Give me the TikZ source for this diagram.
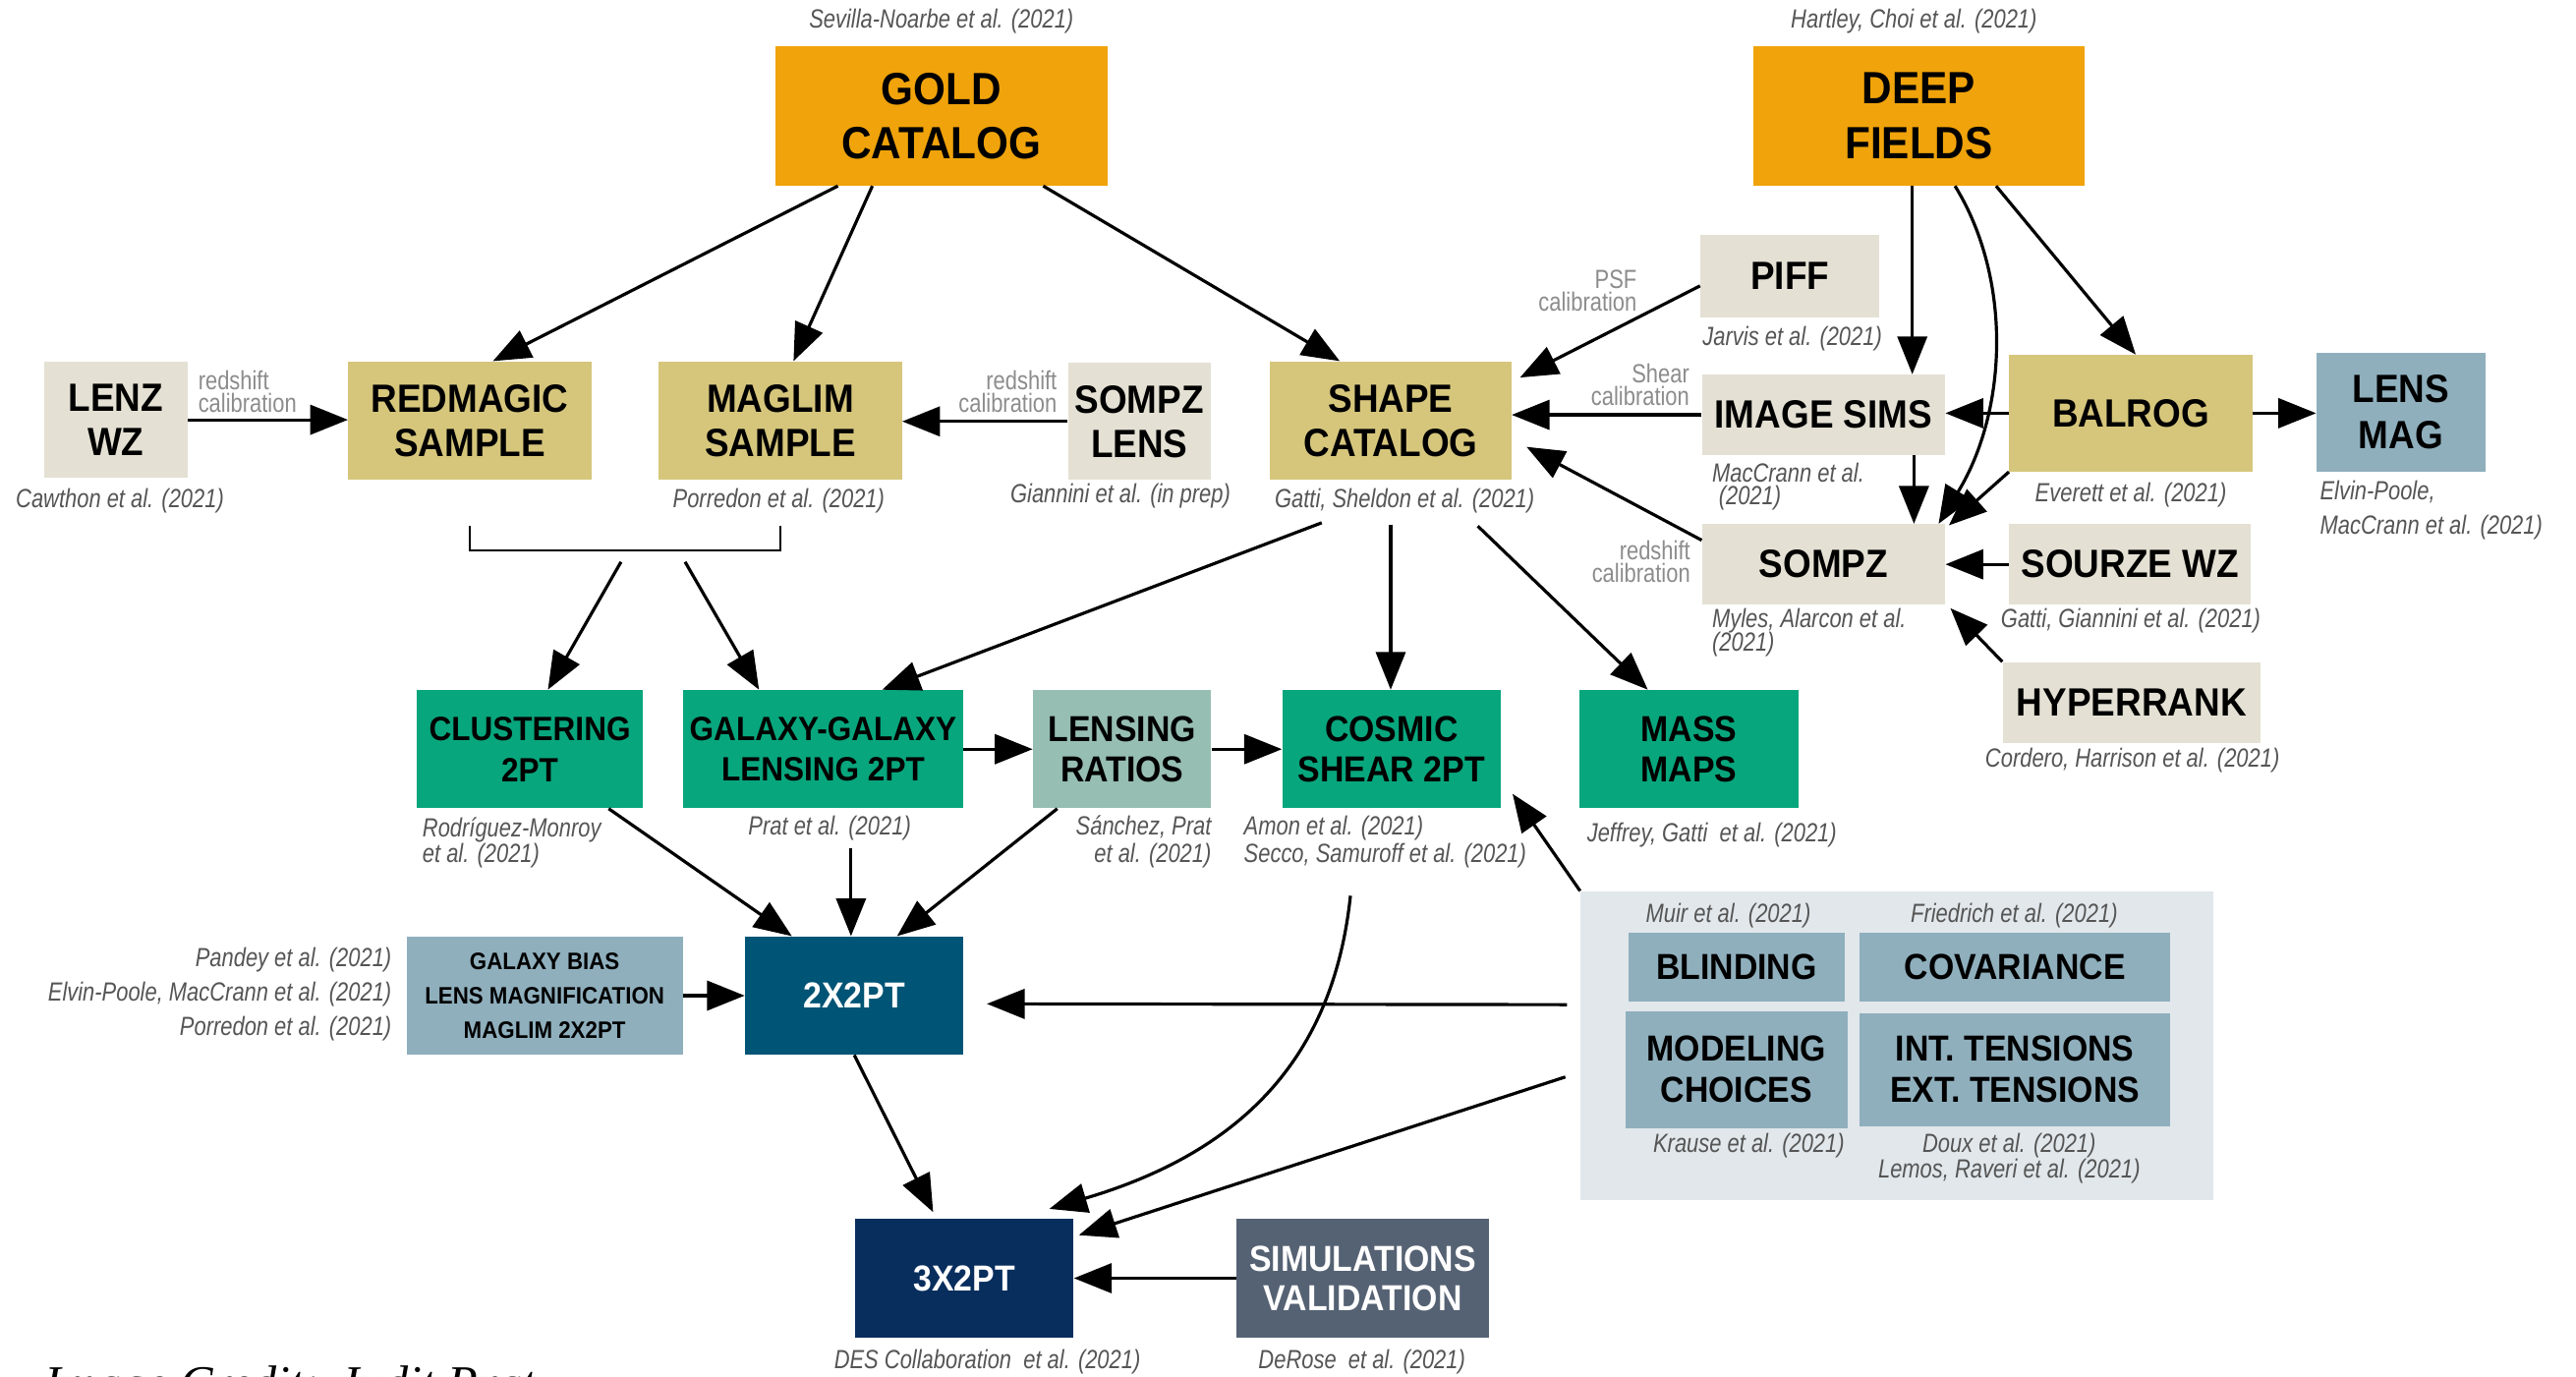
\documentclass[tikz,border=0pt]{standalone}
\usepackage{fontspec}
\setmainfont{Liberation Sans}
\newfontfamily\boxfont[FakeStretch=0.92]{Liberation Sans}
\newfontfamily\citefont[FakeStretch=0.82]{Liberation Sans}
\newfontfamily\creditfont{Liberation Serif}
\usetikzlibrary{arrows.meta}

\definecolor{catorange}{RGB}{240,163,10}
\definecolor{samplekhaki}{RGB}{214,198,124}
\definecolor{toolbeige}{RGB}{228,225,212}
\definecolor{probegreen}{RGB}{8,166,125}
\definecolor{ratiosage}{RGB}{150,190,178}
\definecolor{magblue}{RGB}{143,175,189}
\definecolor{twoptblue}{RGB}{0,84,117}
\definecolor{threeptnavy}{RGB}{8,46,94}
\definecolor{simslate}{RGB}{85,98,115}
\definecolor{panelgray}{RGB}{225,231,235}
\definecolor{citegray}{RGB}{85,85,85}
\definecolor{calibgray}{RGB}{140,140,140}

\tikzset{
  box/.style={inner sep=0pt, align=center, text=black,
    font=\boxfont\bfseries\fontsize{24}{27}\selectfont},
  catbox/.style={box, fill=catorange, minimum width=202pt, minimum height=85pt,
    font=\boxfont\bfseries\fontsize{27.5}{33}\selectfont},
  samplebox/.style={box, fill=samplekhaki},
  toolbox/.style={box, fill=toolbeige},
  probebox/.style={box, fill=probegreen, minimum height=72pt,
    font=\boxfont\bfseries\fontsize{22}{25}\selectfont},
  ratiobox/.style={probebox, fill=ratiosage},
  magbox/.style={box, fill=magblue},
  darkbox/.style={box, text=white, minimum height=72pt,
    font=\boxfont\bfseries\fontsize{22}{24}\selectfont},
  cite/.style={inner sep=0pt, text=citegray,
    font=\citefont\itshape\fontsize{16}{16}\selectfont},
  calib/.style={inner sep=0pt, text=calibgray,
    font=\citefont\fontsize{16}{14}\selectfont},
  link/.style={-{Triangle[length=23pt,width=18pt]}, line width=1.9pt}
}

\begin{document}
\begin{tikzpicture}[x=1pt,y=-1pt]
\useasboundingbox (0,0) rectangle (1568,838);

% catalogs
\node[catbox] (gold) at (573,70.5) {GOLD\\CATALOG};
\node[catbox] (deep) at (1168,70.5) {DEEP\\FIELDS};
\node[cite] (goldcite) at (573,13) {Sevilla-Noarbe et al. (2021)};
\node[cite] (deepcite) at (1165,13) {Hartley, Choi et al. (2021)};

% samples
\node[toolbox, minimum width=87pt, minimum height=71pt] (lenz) at (70.5,255.5) {LENZ\\WZ};
\node[samplebox, minimum width=148pt, minimum height=72pt] (redmagic) at (286,256) {REDMAGIC\\SAMPLE};
\node[samplebox, minimum width=148pt, minimum height=72pt] (maglim) at (475,256) {MAGLIM\\SAMPLE};
\node[toolbox, minimum width=87pt, minimum height=71pt] (sompzlens) at (693.5,256.5) {SOMPZ\\LENS};
\node[samplebox, minimum width=147pt, minimum height=72pt] (shape) at (846.5,256) {SHAPE\\CATALOG};
\node[cite] (lenzcite) at (73,305) {Cawthon et al. (2021)};
\node[cite] (maglimcite) at (474,305) {Porredon et al. (2021)};
\node[cite] (sompzlenscite) at (682,302) {Giannini et al. (in prep)};
\node[cite] (shapecite) at (855,305) {Gatti, Sheldon et al. (2021)};
\node[calib, anchor=west, align=left] (lenzcal) at (120.5,238.5) {redshift\\calibration};
\node[calib, anchor=east, align=right] (lenscal) at (643.5,238.5) {redshift\\calibration};

% calibration
\node[toolbox, minimum width=109pt, minimum height=50pt] (piff) at (1089.5,168) {PIFF};
\node[toolbox, minimum width=148pt, minimum height=49pt] (imsims) at (1110,252.5) {IMAGE SIMS};
\node[samplebox, minimum width=148pt, minimum height=71pt] (balrog) at (1297,251.5) {BALROG};
\node[magbox, minimum width=103pt, minimum height=72pt, font=\boxfont\bfseries\fontsize{24}{28}\selectfont] (lensmag) at (1461.5,251) {LENS\\MAG};
\node[toolbox, minimum width=148pt, minimum height=49pt] (sompz) at (1110,343.5) {SOMPZ};
\node[toolbox, minimum width=147pt, minimum height=49pt] (sourze) at (1296.5,343.5) {SOURZE WZ};
\node[toolbox, minimum width=157pt, minimum height=49pt] (hyperrank) at (1297.5,427.5) {HYPERRANK};
\node[cite] (piffcite) at (1091,206) {Jarvis et al. (2021)};
\node[cite, anchor=west, align=left] (imsimscite) at (1042,296) {MacCrann et al.\\[-2pt]\hspace*{4pt}(2021)};
\node[cite] (balrogcite) at (1297,301) {Everett et al. (2021)};
\node[cite, anchor=west, align=left] (lensmagcite) at (1412,310.5) {Elvin-Poole,\\[5pt]MacCrann et al. (2021)};
\node[cite, anchor=west, align=left] (sompzcite) at (1042,385) {Myles, Alarcon et al.\\[-2pt](2021)};
\node[cite] (sourzecite) at (1297,378) {Gatti, Giannini et al. (2021)};
\node[cite] (hyperrankcite) at (1298,463) {Cordero, Harrison et al. (2021)};
\node[calib, anchor=east, align=right] (psfcal) at (996.5,177) {PSF\\calibration};
\node[calib, anchor=east, align=right] (shearcal) at (1028.5,234) {Shear\\calibration};
\node[calib, anchor=east, align=right] (sompzcal) at (1029,342) {redshift\\calibration};

% two-point
\node[probebox, minimum width=138pt, font=\boxfont\bfseries\fontsize{20.5}{25}\selectfont] (clustering) at (322.5,456) {CLUSTERING\\2PT};
\node[probebox, minimum width=170pt, font=\boxfont\bfseries\fontsize{20.5}{25}\selectfont] (ggl) at (501,456) {GALAXY-GALAXY\\LENSING 2PT};
\node[ratiobox, minimum width=108.5pt] (ratios) at (683,456) {LENSING\\RATIOS};
\node[probebox, minimum width=133pt] (cosmic) at (847,456) {COSMIC\\SHEAR 2PT};
\node[probebox, minimum width=133pt] (massmaps) at (1028,456) {MASS\\MAPS};
\node[cite, anchor=west, align=left] (clustcite) at (257,513) {Rodríguez-Monroy\\et al. (2021)};
\node[cite] (gglcite) at (505,504) {Prat et al. (2021)};
\node[cite, anchor=east, align=right] (ratioscite) at (737.5,512.5) {Sánchez, Prat\\[1pt]et al. (2021)};
\node[cite, anchor=west, align=left] (cosmiccite) at (757,512.5) {Amon et al. (2021)\\[1pt]Secco, Samuroff et al. (2021)};
\node[cite] (masscite) at (1042,508) {Jeffrey, Gatti~ et al. (2021)};

% analysis choices
\node[fill=panelgray, minimum width=385pt, minimum height=188pt, inner sep=0pt] (panel) at (1154.5,636.5) {};
\node[magbox, minimum width=132pt, minimum height=42pt, font=\boxfont\bfseries\fontsize{22}{25}\selectfont] (blinding) at (1057,588.5) {BLINDING};
\node[magbox, minimum width=189pt, minimum height=42pt, font=\boxfont\bfseries\fontsize{22}{25}\selectfont] (covariance) at (1226.5,588.5) {COVARIANCE};
\node[magbox, minimum width=135pt, minimum height=71pt, font=\boxfont\bfseries\fontsize{22}{25}\selectfont] (modeling) at (1057,651) {MODELING\\CHOICES};
\node[magbox, minimum width=189pt, minimum height=69pt, font=\boxfont\bfseries\fontsize{22}{25}\selectfont] (tensions) at (1226.5,651) {INT. TENSIONS\\EXT. TENSIONS};
\node[cite] (muircite) at (1052,557.5) {Muir et al. (2021)};
\node[cite] (friedcite) at (1226,557.5) {Friedrich et al. (2021)};
\node[cite] (krausecite) at (1064.5,697) {Krause et al. (2021)};
\node[cite, align=center] (douxcite) at (1223,705) {Doux et al. (2021)\\Lemos, Raveri et al. (2021)};

% combined probes
\node[magbox, minimum width=168pt, minimum height=72pt, font=\boxfont\bfseries\fontsize{14.5}{21}\selectfont] (bias) at (331.5,606) {GALAXY BIAS\\LENS MAGNIFICATION\\MAGLIM 2X2PT};
\node[darkbox, fill=twoptblue, minimum width=133pt] (twopt) at (520,606) {2X2PT};
\node[darkbox, fill=threeptnavy, minimum width=133pt] (threept) at (587,778) {3X2PT};
\node[darkbox, fill=simslate, minimum width=154pt] (simval) at (829.5,778) {SIMULATIONS\\VALIDATION};
\node[cite, anchor=east, align=right] (biascite) at (238.5,605) {Pandey et al. (2021)\\[5pt]Elvin-Poole, MacCrann et al. (2021)\\[5pt]Porredon et al. (2021)};
\node[cite] (threeptcite) at (601,829) {DES Collaboration~ et al. (2021)};
\node[cite] (simcite) at (829,829) {DeRose~ et al. (2021)};
\node[inner sep=0pt, anchor=north west, font=\creditfont\itshape\fontsize{30}{30}\selectfont] (credit) at (27,831) {Image Credit: Judit Prat};

% bracket under the lens samples
\draw[line width=1.2pt] ([yshift=-28pt]redmagic.south) -- ++(0,15) -| ([yshift=-28pt]maglim.south);
\coordinate (forka) at (378,342);
\coordinate (forkb) at (417,342);

% arrows
\draw[link] ([xshift=-63pt]gold.south) -- ([xshift=14pt]redmagic.north);
\draw[link] ([xshift=-42pt]gold.south) -- ([xshift=8pt]maglim.north);
\draw[link] ([xshift=62pt]gold.south) -- ([xshift=-31pt]shape.north);
\draw[link] ([xshift=-4pt]deep.south) -- ([xshift=54pt]imsims.north);
\draw[link] ([xshift=22pt]deep.south) .. controls (1225,170) and (1222,250) .. ([xshift=70pt]sompz.north);
\draw[link] ([xshift=47pt]deep.south) -- ([xshift=3pt]balrog.north);
\draw[link] ([yshift=-6pt]piff.west) -- ([xshift=5pt,yshift=-10pt]shape.north east);
\draw[link] (imsims.west) -- (imsims.west -| shape.east);
\draw[link] ([yshift=-10pt]sompz.north west) -- ([xshift=9pt,yshift=-16pt]shape.east);
\draw[link] (balrog.west) -- (balrog.west -| imsims.east);
\draw[link] (balrog.east) -- (balrog.east -| lensmag.west);
\draw[link] ([xshift=55pt]imsims.south) -- ([xshift=55pt]sompz.north);
\draw[link] (balrog.south west) -- ([xshift=2pt,yshift=-1pt]sompz.north east);
\draw[link] (sourze.west) -- (sourze.west -| sompz.east);
\draw[link] (hyperrank.north west) -- ([xshift=3pt,yshift=-2pt]sompz.south east);
\draw[link] (lenz.east) -- (lenz.east -| redmagic.west);
\draw[link] (sompzlens.west) -- (sompzlens.west -| maglim.east);
\draw[link] (forka) -- ([xshift=11pt]clustering.north);
\draw[link] (forkb) -- ([xshift=-39pt]ggl.north);
\draw[link] ([xshift=-42pt,yshift=-26pt]shape.south) -- ([xshift=36pt]ggl.north);
\draw[link] ([yshift=-27pt]shape.south) -- (shape.south |- cosmic.north);
\draw[link] ([xshift=53pt,yshift=-28pt]shape.south) -- ([xshift=-25pt]massmaps.north);
\draw[link] (ggl.east) -- (ggl.east -| ratios.west);
\draw[link] (ratios.east) -- (ratios.east -| cosmic.west);
\draw[link] ([xshift=48pt]clustering.south) -- ([xshift=-38pt]twopt.north);
\draw[link] ([xshift=17pt,yshift=-24pt]ggl.south) -- ([xshift=-2pt]twopt.north);
\draw[link] ([xshift=15pt]ratios.south west) -- ([xshift=26pt]twopt.north);
\draw[link] (panel.north west) -- ([xshift=7pt,yshift=9pt]cosmic.south east);
\draw[link] (bias.east) -- (bias.east -| twopt.west);
\draw[link] ([xshift=-8pt,yshift=25pt]panel.west) -- ([xshift=14pt,yshift=-5pt]twopt.east);
\draw[link] (twopt.south) -- ([xshift=-19pt,yshift=4pt]threept.north);
\draw[link] ([xshift=-25pt,yshift=-53pt]cosmic.south) .. controls (812,640) and (760,700) .. ([xshift=-15pt,yshift=6pt]threept.north east);
\draw[link] ([xshift=-9pt,yshift=-19pt]panel.west) -- ([xshift=3pt,yshift=-10pt]threept.north east);
\draw[link] (simval.west) -- (simval.west -| threept.east);
\end{tikzpicture}
\end{document}
